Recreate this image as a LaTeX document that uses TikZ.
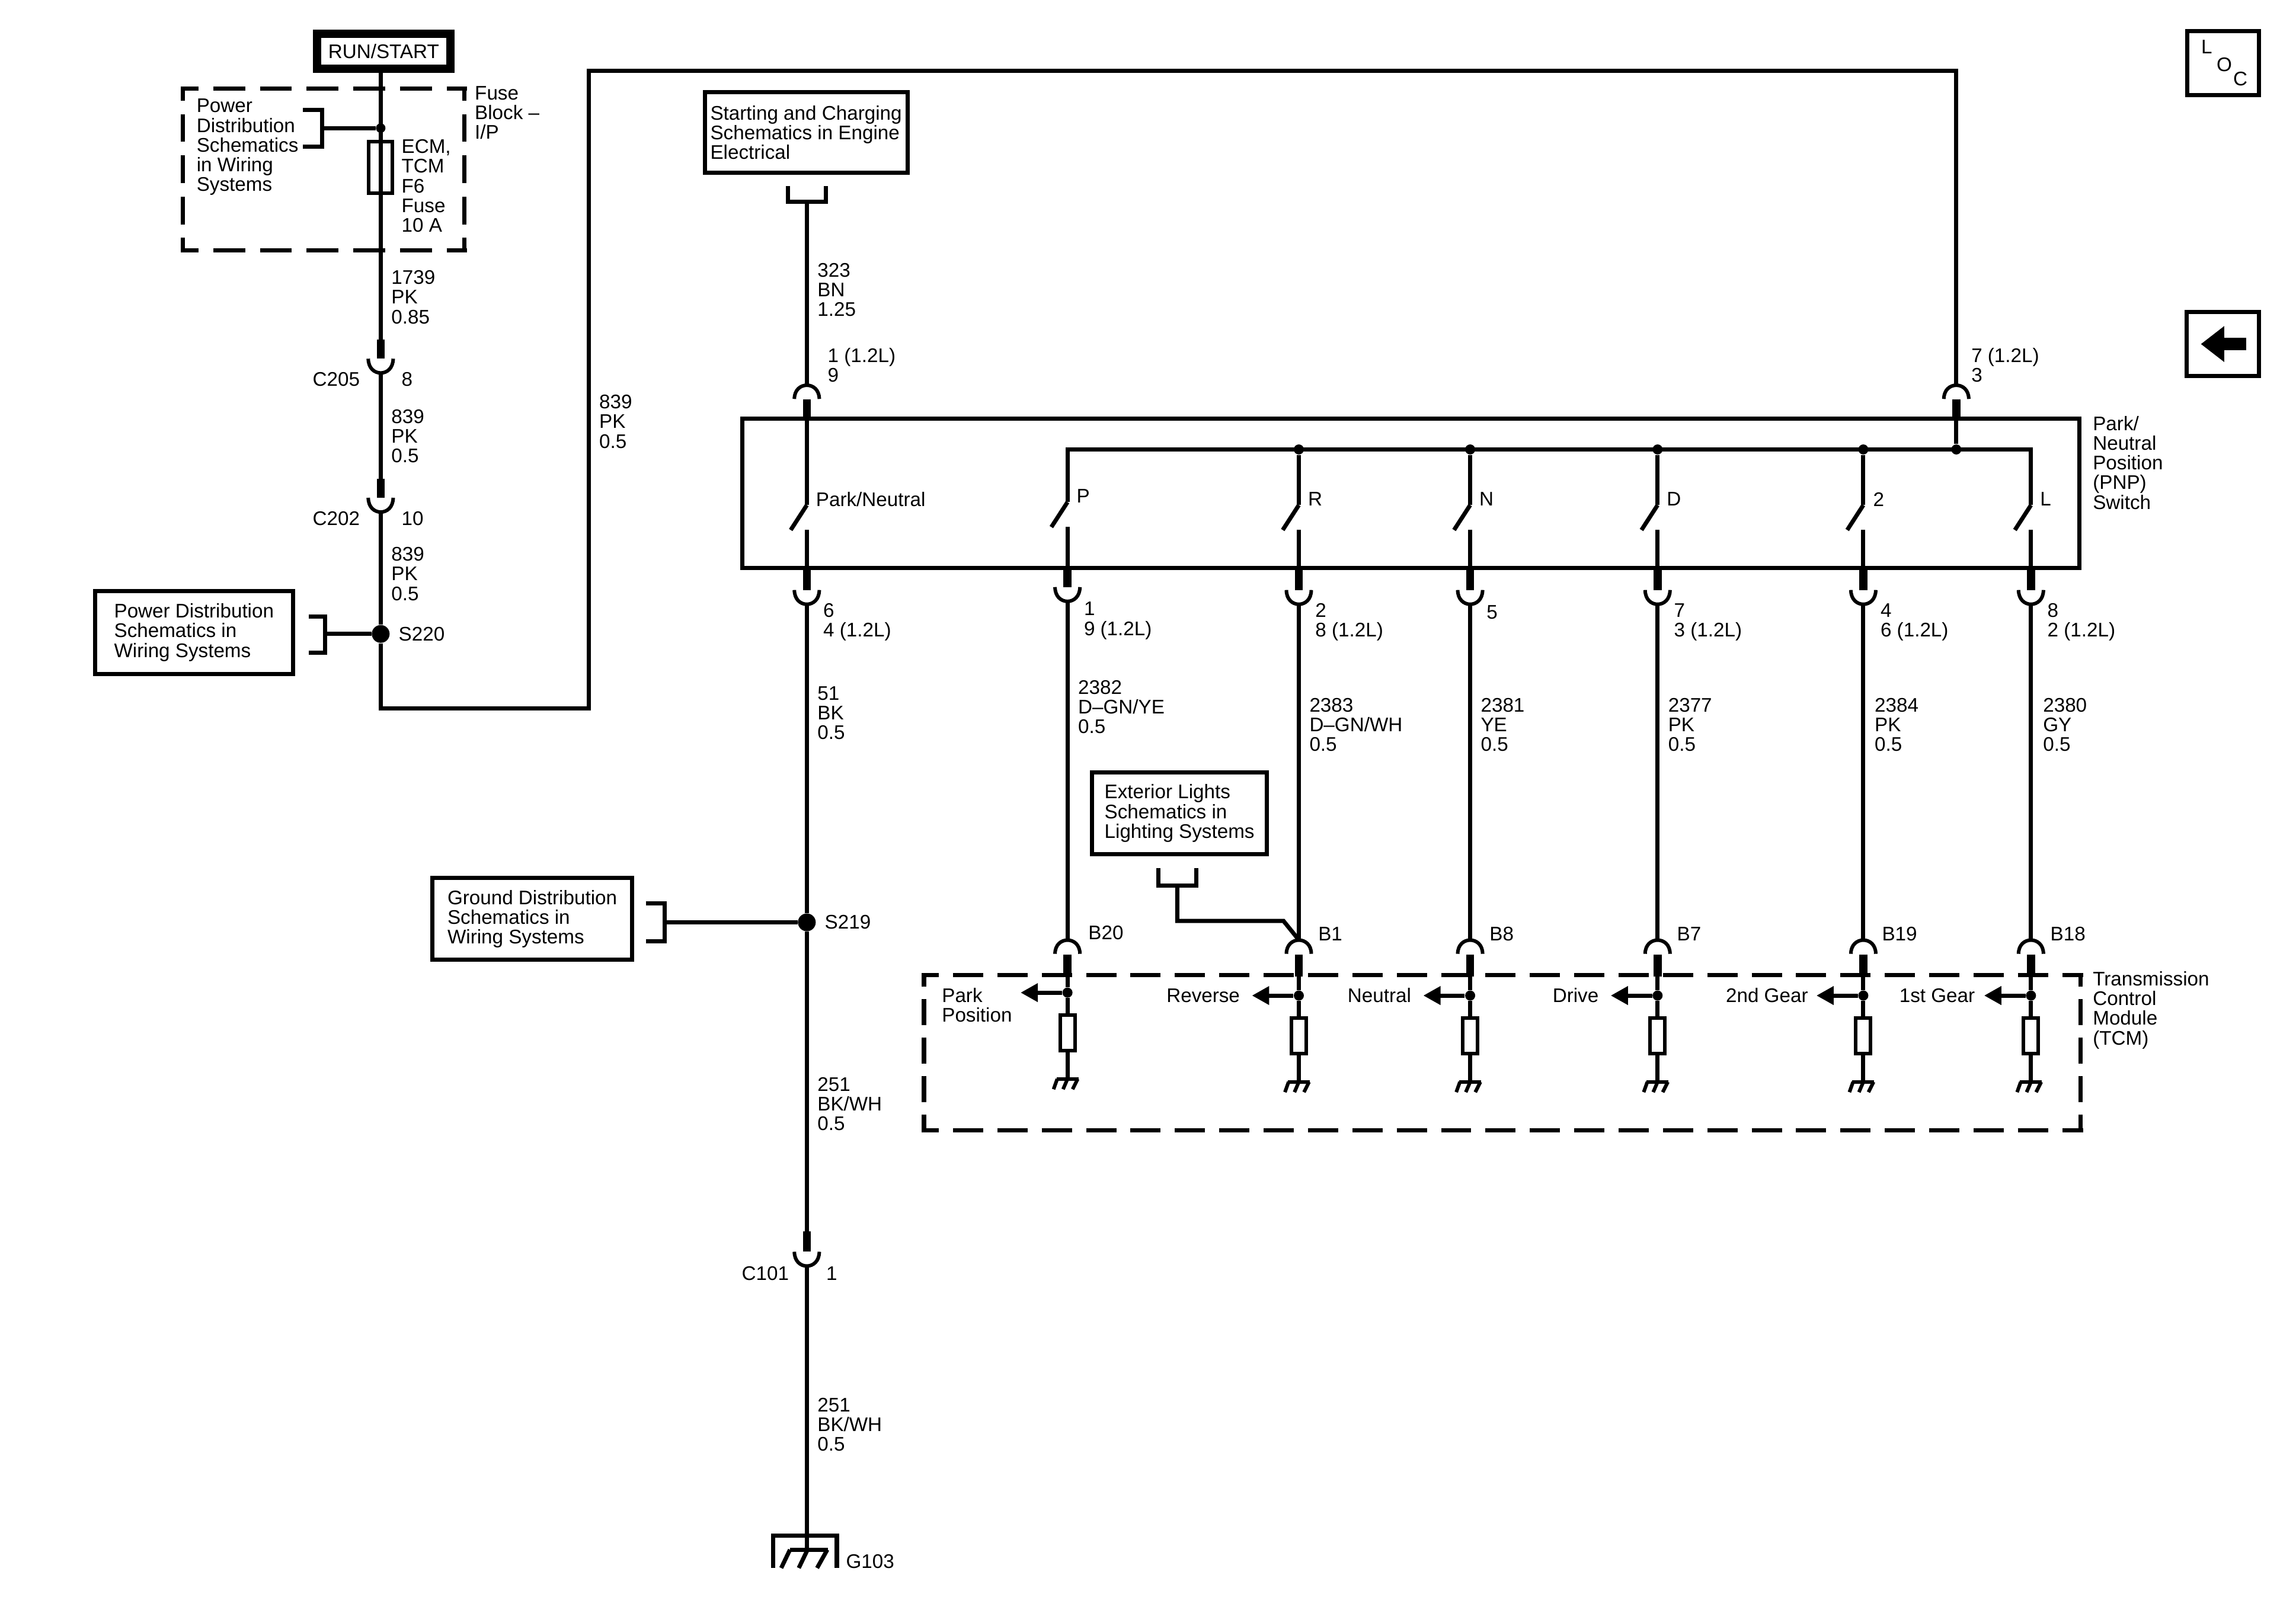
\documentclass[tikz,border=0pt]{standalone}
\usepackage{fontspec}
\setmainfont{Liberation Sans}
\usepackage{tikz}
\usetikzlibrary{arrows.meta}
\newcommand{\lblfont}{\fontsize{9.45}{9.45}\selectfont}
\tikzstyle{wire}=[line width=2pt]
\tikzstyle{stub}=[line width=3.8pt]
\tikzstyle{plug}=[line width=1.7pt]
\tikzstyle{txt}=[anchor=west,align=left,inner sep=0pt,font=\lblfont]
\tikzstyle{txtr}=[anchor=east,align=right,inner sep=0pt,font=\lblfont]
\tikzstyle{refbox}=[draw,line width=2pt,align=left,inner sep=0pt,font=\lblfont]
\tikzstyle{fuse}=[draw,line width=1.7pt,inner sep=0pt,minimum width=4mm,minimum height=8.7mm]
\tikzstyle{load}=[draw,line width=1.7pt,inner sep=0pt,minimum width=2.5mm,minimum height=6mm]
\tikzstyle{jbig}=[circle,fill=black,inner sep=0pt,minimum size=3mm]
\tikzstyle{jsmall}=[circle,fill=black,inner sep=0pt,minimum size=1.7mm]
\tikzstyle{hdash}=[line width=2pt,dash pattern=on 15.3pt off 7.1pt,dash phase=6.8pt]
\tikzstyle{vdash}=[line width=2pt,dash pattern=on 13.3pt off 6.5pt,dash phase=6.8pt]
\tikzstyle{hdashb}=[line width=2pt,dash pattern=on 14.5pt off 6.8pt,dash phase=6.3pt]
\tikzstyle{vdashb}=[line width=2pt,dash pattern=on 12.5pt off 6pt,dash phase=6.3pt]
\newcommand{\pindn}[4]{% name, x, stub top, cup top
\coordinate (#1t) at (#2,#3);
\coordinate (#1) at (#2,#4);
\coordinate (#1b) at (#2,#4+9);
\draw[stub] (#1t) -- (#1);
\draw[plug] (#2-8.5,#4) .. controls (#2-8.5,#4+13) and (#2+8.5,#4+13) .. (#2+8.5,#4);
}
\newcommand{\pinup}[4]{% name, x, cap top, stub bottom
\coordinate (#1t) at (#2,#3);
\coordinate (#1s) at (#2,#4);
\coordinate (#1) at (#2,#3+10);
\draw[stub] (#1) -- (#1s);
\draw[plug] (#2-8.5,#3+9.5) .. controls (#2-8.5,#3-3) and (#2+8.5,#3-3) .. (#2+8.5,#3+9.5);
}
\newcommand{\blade}[3]{% name, x, hinge y
\coordinate (#1h) at (#2,#3);
\coordinate (#1c) at (#2,#3+17);
\draw[wire] (#1h) -- (#2-11,#3+17);
}
\newcommand{\tcmtap}[3]{% name, x, y of the junction
\node[jsmall] (#1d) at (#2,#3) {};
\node[load] (#1r) at (#2,#3+27.5) {};
\coordinate (#1g) at (#2,#3+59);
\coordinate (#1a) at (#2-32,#3);
\draw[wire] (#1d) -- (#1r.north);
\draw[wire] (#1r.south) -- (#1g);
\draw[wire,-{Triangle[length=2.9mm,width=3mm]}] (#1d) -- (#1a);
\draw[plug] (#2-7.5,#3+59) -- (#2+7.5,#3+59);
\draw[plug] (#2-7,#3+59) -- (#2-9.5,#3+66);
\draw[plug] (#2,#3+59) -- (#2-3,#3+66);
\draw[plug] (#2+7,#3+59) -- (#2+3.5,#3+66);
}
\begin{document}
\begin{tikzpicture}[x=0.24707mm,y=-0.24707mm]
\useasboundingbox (0,0) rectangle (1568,1099.7);
% fuse block
\node[draw,line width=4pt,inner sep=0pt,minimum width=22.5mm,minimum height=5.9mm,font=\lblfont] (run) at (262,35) {RUN/START};
\draw[hdash] (123.5,60.5) -- (319,60.5);
\draw[hdash] (123.5,171) -- (319,171);
\draw[vdash] (125,59.5) -- (125,172);
\draw[vdash] (317,59.5) -- (317,172);
\node[txt] (pdtop) at (134,100.5) {Power\\Distribution\\Schematics\\in Wiring\\Systems};
\node[txt] (fblk) at (324,77) {Fuse\\Block --\\I/P};
\node[txt] (ftxt) at (274,127) {ECM,\\TCM\\F6\\Fuse\\10 A};
\node[jsmall,minimum size=1.6mm] (jtop) at (260,87.5) {};
\coordinate (brtop) at (220,87.5);
\draw[wire] (207,75) -- (220,75) -- (220,100) -- (207,100);
\draw[wire] (brtop) -- (jtop);
\node[fuse] (f6) at (260,114.5) {};
% left column
\pindn{c205}{260}{232}{245}
\pindn{c202}{260}{327}{340}
\node[jbig] (s220) at (260,433) {};
\coordinate (cnr1) at (260,484);
\coordinate (cnr2) at (402,484);
\coordinate (cnr3) at (402,48.5);
\coordinate (cnr4) at (1336,48.5);
\draw[wire] (c205t |- run.south) -- (c205t);
\draw[wire] (c205b) -- (c202t);
\draw[wire] (c202b) -- (s220);
\node[txt] (w1739) at (267,203) {1739\\PK\\0.85};
\node[txtr] (lc205) at (246,259) {C205};
\node[txt] (pc205) at (274,259) {8};
\node[txt] (w839a) at (267,298) {839\\PK\\0.5};
\node[txtr] (lc202) at (246,354) {C202};
\node[txt] (pc202) at (274,354) {10};
\node[txt] (w839b) at (267,392) {839\\PK\\0.5};
\node[txt] (ls220) at (272,433) {S220};
\node[txt] (w839c) at (409,288) {839\\PK\\0.5};
\node[refbox,minimum width=33.35mm,minimum height=13.95mm] (pdbox) at (132.5,432) {Power Distribution\\Schematics in\\Wiring Systems};
\coordinate (brpd) at (222,433);
\draw[wire] (211,421) -- (222,421) -- (222,446) -- (211,446);
\draw[wire] (brpd) -- (s220);
% starting and charging feed
\node[refbox,minimum width=34.2mm,minimum height=13.6mm] (stbox) at (550.5,90.5) {Starting and Charging\\Schematics in Engine\\Electrical};
\coordinate (brst) at (551,138);
\draw[wire] (538,127) -- (538,138) -- (564,138) -- (564,127);
\pinup{p9}{551}{263}{286}
\pinup{p7}{1336}{263}{286}
\draw[wire] (brst) -- (p9t);
\draw[wire] (s220) -- (cnr1) -- (cnr2) -- (cnr3) -- (cnr4) -- (p7t);
\node[txt] (w323) at (558,198) {323\\BN\\1.25};
\node[txt] (l1p9) at (565,249.5) {1 (1.2L)\\9};
\node[txt] (l7p3) at (1346,249.5) {7 (1.2L)\\3};
% switch
\node[draw,line width=2pt,inner sep=0pt,minimum width=225.6mm,minimum height=25.2mm] (pnp) at (963.5,337) {};
\node[txt] (lpnp) at (1429,316) {Park/\\Neutral\\Position\\(PNP)\\Switch};
\blade{pn}{551}{345}
\blade{sp}{729}{343}
\blade{sr}{887}{345}
\blade{sn}{1004}{345}
\blade{sd}{1132}{345}
\blade{st}{1272.5}{345}
\blade{sl}{1387}{345}
\coordinate (railp) at (729,307);
\coordinate (raill) at (1387,307);
\node[jsmall] (jr) at (887,307) {};
\node[jsmall] (jn) at (1004,307) {};
\node[jsmall] (jd) at (1132,307) {};
\node[jsmall] (jt) at (1272.5,307) {};
\node[jsmall] (jf) at (1336,307) {};
\draw[wire] (sph) -- (railp) -- (raill) -- (slh);
\draw[wire] (jr) -- (srh);
\draw[wire] (jn) -- (snh);
\draw[wire] (jd) -- (sdh);
\draw[wire] (jt) -- (sth);
\draw[wire] (p7s) -- (jf);
\draw[wire] (p9s) -- (pnh);
\node[txt] (lpn) at (557,341) {Park/Neutral};
\node[txt] (lp) at (735,339) {P};
\node[txt] (lr) at (893,341) {R};
\node[txt] (ln) at (1010,341) {N};
\node[txt] (ld) at (1138,341) {D};
\node[txt] (lt) at (1279,341) {2};
\node[txt] (ll) at (1393,341) {L};
% switch outputs
\pindn{pa}{551}{388}{403}
\pindn{pb}{729}{388}{401}
\pindn{pc}{887}{388}{403}
\pindn{pd}{1004}{388}{403}
\pindn{pe}{1132}{388}{403}
\pindn{pf}{1272.5}{388}{403}
\pindn{pg}{1387}{388}{403}
\draw[wire] (pnc) -- (pat);
\draw[wire] (spc) -- (pbt);
\draw[wire] (src) -- (pct);
\draw[wire] (snc) -- (pdt);
\draw[wire] (sdc) -- (pet);
\draw[wire] (stc) -- (pft);
\draw[wire] (slc) -- (pgt);
\node[txt] (lpa) at (562,425) {6\\4 (1.2L)};
\node[txt] (lpb) at (740,424) {1\\9 (1.2L)};
\node[txt] (lpc) at (898,425) {2\\8 (1.2L)};
\node[txt] (lpd) at (1015,418) {5};
\node[txt] (lpe) at (1143,425) {7\\3 (1.2L)};
\node[txt] (lpf) at (1284,425) {4\\6 (1.2L)};
\node[txt] (lpg) at (1398,425) {8\\2 (1.2L)};
\node[txt] (w51) at (558,487) {51\\BK\\0.5};
\node[txt] (w2382) at (736,483) {2382\\D--GN/YE\\0.5};
\node[txt] (w2383) at (894,495) {2383\\D--GN/WH\\0.5};
\node[txt] (w2381) at (1011,495) {2381\\YE\\0.5};
\node[txt] (w2377) at (1139,495) {2377\\PK\\0.5};
\node[txt] (w2384) at (1280,495) {2384\\PK\\0.5};
\node[txt] (w2380) at (1395,495) {2380\\GY\\0.5};
% ground side
\node[jbig] (s219) at (551,630) {};
\pindn{c101}{551}{841}{855}
\coordinate (g103) at (551,1058.5);
\draw[wire] (pab) -- (s219);
\draw[wire] (s219) -- (c101t);
\draw[wire] (c101b) -- (g103);
\node[txt] (ls219) at (563,630) {S219};
\node[refbox,minimum width=33.7mm,minimum height=13.8mm] (gdbox) at (363.5,627.7) {Ground Distribution\\Schematics in\\Wiring Systems};
\coordinate (brgd) at (454,630);
\draw[wire] (441,617) -- (454,617) -- (454,643) -- (441,643);
\draw[wire] (brgd) -- (s219);
\node[txt] (w251a) at (558,754) {251\\BK/WH\\0.5};
\node[txtr] (lc101) at (539,870) {C101};
\node[txt] (pc101) at (564,870) {1};
\node[txt] (w251b) at (558,973) {251\\BK/WH\\0.5};
\draw[wire] (528,1071) -- (528,1049) -- (571.5,1049) -- (571.5,1071);
\draw[wire] (539.5,1058.5) -- (565.5,1058.5);
\draw[wire] (539.5,1058.5) -- (533.5,1071);
\draw[wire] (551.5,1058.5) -- (545.5,1071);
\draw[wire] (565,1058.5) -- (558,1071);
\node[txt] (lg103) at (577.5,1066.5) {G103};
% exterior lights
\node[refbox,minimum width=29.5mm,minimum height=13.8mm] (exbox) at (805.5,555.5) {Exterior Lights\\Schematics in\\Lighting Systems};
\coordinate (brex) at (804,605);
\coordinate (exa) at (804,629);
\coordinate (exb) at (876.5,629);
\draw[wire] (791,593) -- (791,605) -- (817,605) -- (817,593);
% TCM
\draw[hdashb] (629.5,666) -- (1422.5,666);
\draw[hdashb] (629.5,772) -- (1422.5,772);
\draw[vdashb] (631,665) -- (631,773);
\draw[vdashb] (1421,665) -- (1421,773);
\pinup{b20}{729}{642}{667}
\pinup{b1}{887}{642}{667}
\pinup{b8}{1004}{642}{667}
\pinup{b7}{1132}{642}{667}
\pinup{b19}{1272.5}{642}{667}
\pinup{b18}{1387}{642}{667}
\draw[wire] (pbb) -- (b20t);
\draw[wire] (pcb) -- (b1t);
\draw[wire] (pdb) -- (b8t);
\draw[wire] (peb) -- (b7t);
\draw[wire] (pfb) -- (b19t);
\draw[wire] (pgb) -- (b18t);
\draw[wire] (brex) -- (exa) -- (exb) -- (b1t);
\tcmtap{tp}{729}{678}
\tcmtap{tr}{887}{680}
\tcmtap{tn}{1004}{680}
\tcmtap{td}{1132}{680}
\tcmtap{tt}{1272.5}{680}
\tcmtap{tf}{1387}{680}
\draw[wire] (b20s) -- (tpd);
\draw[wire] (b1s) -- (trd);
\draw[wire] (b8s) -- (tnd);
\draw[wire] (b7s) -- (tdd);
\draw[wire] (b19s) -- (ttd);
\draw[wire] (b18s) -- (tfd);
\node[txt] (lb20) at (743,637) {B20};
\node[txt] (lb1) at (900,638) {B1};
\node[txt] (lb8) at (1017,638) {B8};
\node[txt] (lb7) at (1145,638) {B7};
\node[txt] (lb19) at (1285,638) {B19};
\node[txt] (lb18) at (1400,638) {B18};
\node[txt] (lpark) at (643,686.5) {Park\\Position};
\node[txtr] (lrev) at (847,680) {Reverse};
\node[txtr] (lneu) at (964,680) {Neutral};
\node[txtr] (ldrv) at (1092,680) {Drive};
\node[txtr] (l2nd) at (1235,680) {2nd Gear};
\node[txtr] (l1st) at (1349,680) {1st Gear};
\node[txt] (ltcm) at (1429,690) {Transmission\\Control\\Module\\(TCM)};
% corner symbols
\node[draw,line width=2pt,inner sep=0pt,minimum width=12.1mm,minimum height=10.8mm] (locbox) at (1518,43) {};
\node[font=\lblfont,inner sep=0pt] (locl) at (1507,32) {L};
\node[font=\lblfont,inner sep=0pt] (loco) at (1519,44) {O};
\node[font=\lblfont,inner sep=0pt] (locc) at (1530,54) {C};
\node[draw,line width=2pt,inner sep=0pt,minimum width=12.2mm,minimum height=10.8mm] (backbox) at (1518,235) {};
\coordinate (backa) at (1534,235);
\coordinate (backb) at (1503,235);
\draw[line width=5.9pt,-{Triangle[length=3.95mm,width=5.8mm]}] (backa) -- (backb);
\end{tikzpicture}
\end{document}
